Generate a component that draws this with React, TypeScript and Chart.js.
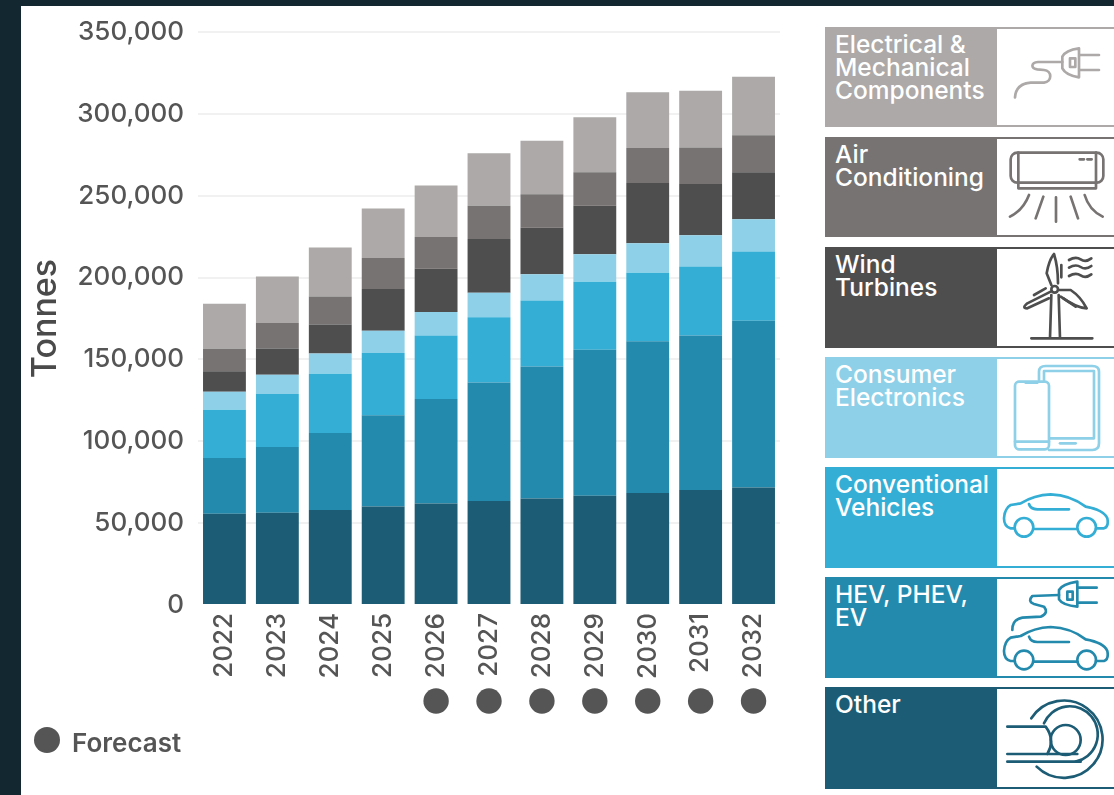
import React, { useEffect, useRef } from "react";
import { Chart, registerables } from "chart.js";

Chart.register(...registerables);

const years = ["2022", "2023", "2024", "2025", "2026", "2027", "2028", "2029", "2030", "2031", "2032"];
const forecastYears = ["2026", "2027", "2028", "2029", "2030", "2031", "2032"];
const yTicks = [0, 50000, 100000, 150000, 200000, 250000, 300000, 350000];

const other = [55700, 56300, 58100, 60200, 62000, 63600, 65100, 66700, 68400, 70200, 71800];
const hev = [34100, 40200, 47000, 55700, 63900, 72300, 80600, 89200, 92700, 94400, 101800];
const conventional = [29400, 32400, 36100, 38100, 38700, 39900, 40300, 41600, 41900, 42100, 42400];
const consumer = [11000, 11700, 12400, 13500, 14300, 14900, 16000, 16700, 17900, 19100, 19600];
const wind = [12600, 16100, 17800, 25500, 26500, 32900, 28500, 29600, 36800, 31400, 28800];
const airCon = [13700, 15500, 17100, 18900, 19400, 20200, 20400, 20600, 21400, 22300, 22600];
const electrical = [27500, 28500, 29800, 30300, 31400, 32200, 32600, 33500, 34100, 34600, 35700];

const C_OTHER = "#1c5c75";
const C_HEV = "#248aad";
const C_CONV = "#35aed6";
const C_CONS = "#8dd0e8";
const C_WIND = "#4f4e4e";
const C_AC = "#767372";
const C_ELEC = "#aca9a8";
const FONT = "Inter, 'Noto Sans', sans-serif";
const INK = "#555555";

const seriesStack = [
  { label: "Other", data: other, color: C_OTHER },
  { label: "HEV, PHEV, EV", data: hev, color: C_HEV },
  { label: "Conventional Vehicles", data: conventional, color: C_CONV },
  { label: "Consumer Electronics", data: consumer, color: C_CONS },
  { label: "Wind Turbines", data: wind, color: C_WIND },
  { label: "Air Conditioning", data: airCon, color: C_AC },
  { label: "Electrical & Mechanical Components", data: electrical, color: C_ELEC },
];

const CAR = (
  <>
    <path d="M602 205 H590 Q570 200 570 175 Q572 145 590 135 L620 130 Q660 105 710 103 Q770 105 815 140 Q870 150 880 175 Q885 200 870 205 H846" />
    <circle cx="630" cy="202" r="28" />
    <circle cx="818" cy="202" r="28" />
    <path d="M660 207 H788" />
    <path d="M645 132 Q650 148 670 148 H765" />
  </>
);

const legendItems = [
  {
    lines: ["Electrical &", "Mechanical", "Components"], color: C_ELEC, top: 27, height: 100, iconTop: 0,
    icon: (
      <>
        <path d="M603 292 C605 262 625 250 650 248 L690 248 C715 245 715 212 690 210 L670 208 C650 205 650 188 672 186 L745 186" />
        <path d="M795 145 V232 Q755 225 745 205 V170 Q755 150 795 145 Z" />
        <rect x="768" y="175" width="16" height="26" />
        <path d="M797 165 H855 M797 210 H855" />
      </>
    ),
  },
  {
    lines: ["Air", "Conditioning"], color: C_AC, top: 137, height: 100, iconTop: 0,
    icon: (
      <>
        <rect x="590" y="458" width="278" height="90" rx="20" />
        <path d="M613 458 V548 M846 458 V548" />
        <path d="M613 548 V565 H846 V548" />
        <path d="M797 478 H810 M820 478 H833" />
        <path d="M645 585 Q628 630 588 650 M688 590 L665 655 M726 592 V665 M770 590 L792 655 M812 585 Q825 630 866 650" />
      </>
    ),
  },
  {
    lines: ["Wind", "Turbines"], color: C_WIND, top: 247, height: 101, iconTop: 240,
    icon: (
      <>
        <path d="M712 165 L708 295 M734 165 L738 295 M652 295 H835" />
        <circle cx="722" cy="148" r="10" />
        <path d="M712 135 L698 100 Q705 60 720 42 Q732 80 732 130" />
        <path d="M710 155 L640 190 Q622 205 640 205 L705 175" />
        <path d="M735 150 H770 Q800 170 818 205 Q790 205 740 170" />
        <path d="M765 60 Q785 48 800 58 T832 55 M765 83 Q785 71 800 81 T832 78 M765 108 Q785 96 800 106 T832 103" />
        <path d="M742 75 V112 M660 165 L695 145 M748 175 L785 200" />
      </>
    ),
  },
  {
    lines: ["Consumer", "Electronics"], color: C_CONS, top: 357, height: 101, iconTop: 240,
    icon: (
      <>
        <path d="M675 420 V395 Q675 378 695 378 H835 Q855 378 855 395 V610 Q855 630 835 630 H705" />
        <path d="M690 420 V393 H840 V595 H708" />
        <path d="M738 610 H785" />
        <rect x="603" y="425" width="102" height="203" rx="12" />
        <path d="M603 605 H705 M635 428 H670" />
      </>
    ),
  },
  {
    lines: ["Conventional", "Vehicles"], color: C_CONV, top: 467, height: 101, iconTop: 460,
    icon: CAR,
  },
  {
    lines: ["HEV, PHEV,", "EV"], color: C_HEV, top: 577, height: 101, iconTop: 460,
    icon: (
      <>
        <g transform="translate(0 398)">{CAR}</g>
        <path d="M595 510 Q595 478 625 473 L680 470 Q705 460 690 440 L660 432 Q640 425 655 408 L735 405" />
        <path d="M790 365 V440 Q745 435 735 418 V390 Q745 372 790 365 Z" />
        <rect x="760" y="395" width="16" height="24" />
        <path d="M793 383 H848 M793 428 H848" />
      </>
    ),
  },
  {
    lines: ["Other"], color: C_OTHER, top: 687, height: 102, iconTop: 460,
    icon: (
      <>
        <path d="M652 775 A116 116 0 1 1 668 920" />
        <path d="M690 790 A84 84 0 1 1 785 905" />
        <circle cx="755" cy="840" r="45" />
        <path d="M580 800 H695 Q725 840 700 882 M580 882 H790 M580 905 H800" />
      </>
    ),
  },
];

const forecastDots = {
  id: "forecastDots",
  afterDraw(chart: any) {
    const { ctx, chartArea, scales } = chart;
    ctx.save();
    ctx.fillStyle = INK;
    forecastYears.forEach((year) => {
      const px = scales.x.getPixelForValue(years.indexOf(year));
      ctx.beginPath();
      ctx.arc(px, chartArea.bottom + 96, 12.7, 0, Math.PI * 2);
      ctx.fill();
    });
    ctx.restore();
  },
};

export default function App() {
  const ref = useRef<HTMLCanvasElement | null>(null);

  useEffect(() => {
    const chart = new Chart(ref.current as HTMLCanvasElement, {
      type: "bar",
      data: {
        labels: years,
        datasets: seriesStack.map((s) => ({
          label: s.label,
          data: s.data,
          backgroundColor: s.color,
          borderWidth: 0,
          categoryPercentage: 1,
          barPercentage: 0.81,
        })),
      },
      options: {
        responsive: false,
        animation: false,
        layout: { padding: { top: 26, right: 20, bottom: 0, left: 4 } },
        plugins: { legend: { display: false }, tooltip: { enabled: false } },
        scales: {
          x: {
            stacked: true,
            grid: { display: false, drawTicks: false },
            border: { display: false },
            ticks: {
              color: INK,
              font: { family: FONT, size: 26, weight: 500 as any },
              minRotation: 90,
              maxRotation: 90,
              padding: 8,
              autoSkip: false,
            },
            afterFit(scale: any) {
              scale.height = 190;
              scale.paddingLeft = 0;
              scale.paddingRight = 0;
            },
          },
          y: {
            stacked: true,
            min: 0,
            max: 350000,
            afterBuildTicks(scale: any) {
              scale.ticks = yTicks.map((value) => ({ value }));
            },
            grid: {
              color: (c: any) => (c.tick && c.tick.value === 0 ? "rgba(0,0,0,0)" : "#f1f1f1"),
              lineWidth: 2,
              drawTicks: false,
            },
            border: { display: false },
            ticks: {
              color: INK,
              font: { family: FONT, size: 26, weight: 500 as any },
              padding: 14,
              callback: (v: any) => Number(v).toLocaleString("en-US"),
            },
            title: {
              display: true,
              text: "Tonnes",
              color: "#4a4a4a",
              font: { family: FONT, size: 34, weight: 500 as any },
              padding: { top: 0, bottom: 0 },
            },
            afterFit(scale: any) {
              scale.width = 173;
              scale.paddingTop = 0;
              scale.paddingBottom = 0;
            },
          },
        },
      },
      plugins: [forecastDots],
    } as any);
    return () => chart.destroy();
  }, []);

  return (
    <div style={{ position: "fixed", left: 0, top: 0, width: 1114, height: 795, background: "#132730", overflow: "hidden", fontFamily: FONT }}>
      <div style={{ position: "absolute", left: 21, top: 6, width: 1093, height: 789, background: "#ffffff" }} />
      <canvas ref={ref} width={779} height={789} style={{ position: "absolute", left: 21, top: 6, display: "block" }} />

      <div style={{ position: "absolute", left: 34, top: 727, width: 26, height: 26, borderRadius: "50%", background: INK }} />
      <div style={{ position: "absolute", left: 72, top: 725, fontSize: 26, lineHeight: "36px", fontWeight: 600, color: INK }}>Forecast</div>

      {legendItems.map((item) => (
        <div key={item.lines.join(" ")}>
          <div
            style={{
              position: "absolute",
              left: 825,
              top: item.top,
              width: 289,
              height: item.height,
              boxSizing: "border-box",
              border: `2px solid ${item.color}`,
              borderRight: "none",
              background: "#ffffff",
            }}
          />
          <div
            style={{
              position: "absolute",
              left: 825,
              top: item.top,
              width: 172,
              height: item.height,
              background: item.color,
              color: "#ffffff",
              fontSize: 24.5,
              lineHeight: "23px",
              fontWeight: 500,
              paddingLeft: 10,
              paddingTop: 6,
              boxSizing: "border-box",
              whiteSpace: "nowrap",
            }}
          >
            {item.lines.map((line) => (
              <div key={line}>{line}</div>
            ))}
          </div>
          <svg
            width={300}
            height={340}
            viewBox="0 0 900 1020"
            style={{ position: "absolute", left: 814, top: item.iconTop, pointerEvents: "none" }}
            fill="none"
            stroke={item.color}
            strokeWidth={8}
            strokeLinecap="round"
            strokeLinejoin="round"
          >
            {item.icon}
          </svg>
        </div>
      ))}
    </div>
  );
}
